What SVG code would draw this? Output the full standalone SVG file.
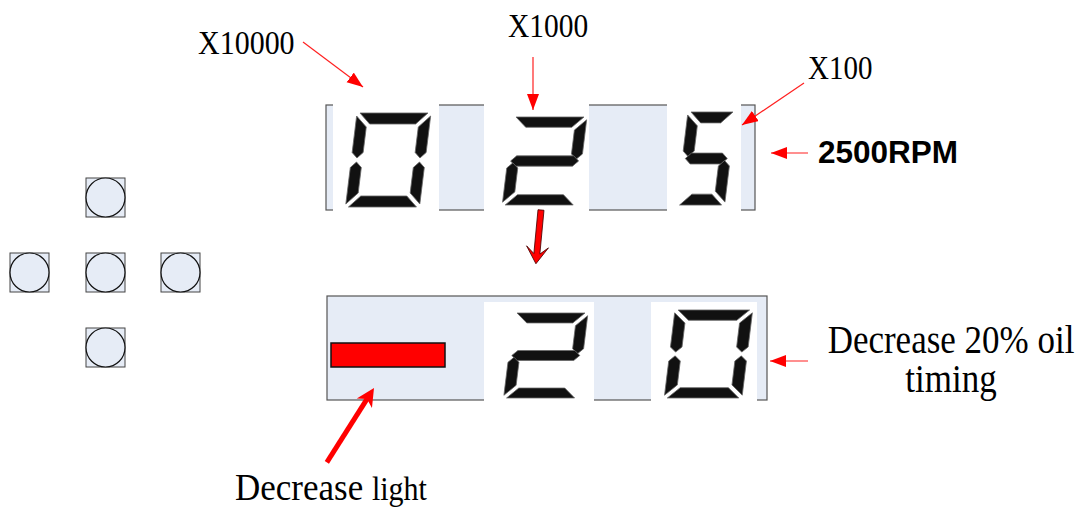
<svg xmlns="http://www.w3.org/2000/svg" xmlns:xlink="http://www.w3.org/1999/xlink" width="1082" height="508" viewBox="0 0 1082 508">
<style>
.panel{fill:#E6ECF6;stroke:#555;stroke-width:1.2}
.white{fill:#fff}
.seg{fill:#111;stroke:#666;stroke-width:0.8}
.btnsq{fill:#E6ECF6;stroke:#444;stroke-width:1}
.btnc{fill:#E6ECF6;stroke:#111;stroke-width:1.2}
.lbl{font-family:"Liberation Serif","Times New Roman",serif;fill:#000}
.bold{font-family:"Liberation Sans",Arial,sans-serif;font-weight:bold;fill:#000}
.thin{stroke:#ff2020;stroke-width:1.2;fill:none}
</style>
<defs>
<marker id="ah" markerUnits="userSpaceOnUse" markerWidth="18" markerHeight="14" refX="16" refY="6" orient="auto">
<path d="M0,0 L16,6 L0,12 z" fill="#ff0000"/>
</marker>
<polygon id="sa" class="seg" points="3,0 71,0 60,11 14,11"/>
<polygon id="sd" class="seg" points="3,94 14,83 60,83 71,94"/>
<polygon id="sg" class="seg" points="3,47 8.5,41.5 65.5,41.5 71,47 65.5,52.5 8.5,52.5"/>
<polygon id="sf" class="seg" points="0,3 11,14 11,39.5 5.5,45 0,39.5"/>
<polygon id="se" class="seg" points="0,54.5 5.5,49 11,54.5 11,80 0,91"/>
<polygon id="sb" class="seg" points="74,3 74,39.5 68.5,45 63,39.5 63,14"/>
<polygon id="sc" class="seg" points="74,54.5 74,91 63,80 63,54.5 68.5,49"/>
<polygon id="na" class="seg" points="3,0 45,0 34,11 14,11"/>
<polygon id="nd" class="seg" points="3,94 14,83 34,83 45,94"/>
<polygon id="ng" class="seg" points="3,47 8.5,41.5 39.5,41.5 45,47 39.5,52.5 8.5,52.5"/>
<g id="d0"><use xlink:href="#sa"/><use xlink:href="#sb"/><use xlink:href="#sc"/><use xlink:href="#sd"/><use xlink:href="#se"/><use xlink:href="#sf"/></g>
<g id="d2"><use xlink:href="#sa"/><use xlink:href="#sb"/><use xlink:href="#sg"/><use xlink:href="#se"/><use xlink:href="#sd"/></g>
<g id="d5"><use xlink:href="#na"/><use xlink:href="#sf"/><use xlink:href="#ng"/><use xlink:href="#sc" x="-26"/><use xlink:href="#nd"/></g>
</defs>

<g id="top-display">
<rect class="panel" x="326" y="105" width="429" height="105"/>
<rect class="white" x="333" y="103" width="106" height="109"/>
<rect class="white" x="484" y="103" width="105" height="109"/>
<rect class="white" x="667" y="103" width="74" height="109"/>
<use xlink:href="#d0" transform="translate(357,113) skewX(-7)"/>
<use xlink:href="#d2" transform="translate(513,117) skewX(-7) scale(1,0.936)"/>
<use xlink:href="#d5" transform="translate(688,112) skewX(-7) scale(1,0.99)"/>
</g>

<g id="bottom-display">
<rect class="panel" x="327" y="296" width="440" height="104"/>
<rect class="white" x="484" y="302" width="110" height="100"/>
<rect class="white" x="651" y="302" width="106" height="100"/>
<rect x="331" y="343" width="114" height="24" fill="#ff0000" stroke="#111" stroke-width="1.5"/>
<use xlink:href="#d2" transform="translate(514,313) skewX(-7) scale(1,0.904)"/>
<use xlink:href="#d0" transform="translate(675,310) skewX(-7) scale(1.05,0.936)"/>
</g>

<g id="btn-up"><rect class="btnsq" x="86" y="178" width="39" height="39"/><circle class="btnc" cx="105.5" cy="197.5" r="19.5"/></g>
<g id="btn-left"><rect class="btnsq" x="10" y="253" width="39" height="39"/><circle class="btnc" cx="29.5" cy="272.5" r="19.5"/></g>
<g id="btn-center"><rect class="btnsq" x="86" y="253" width="39" height="39"/><circle class="btnc" cx="105.5" cy="272.5" r="19.5"/></g>
<g id="btn-right"><rect class="btnsq" x="161" y="253" width="39" height="39"/><circle class="btnc" cx="180.5" cy="272.5" r="19.5"/></g>
<g id="btn-down"><rect class="btnsq" x="86" y="328" width="39" height="39"/><circle class="btnc" cx="105.5" cy="347.5" r="19.5"/></g>

<g id="labels">
<text class="lbl" font-size="30" transform="translate(198,54) scale(1,1.15)">X10000</text>
<text class="lbl" font-size="29.5" transform="translate(508,37) scale(1,1.15)">X1000</text>
<text class="lbl" font-size="29" transform="translate(808,79) scale(1,1.15)">X100</text>
<text class="bold" font-size="31.5" x="818" y="163">2500RPM</text>
<text class="lbl" font-size="35" text-anchor="middle" transform="translate(951,353) scale(1,1.12)">Decrease 20% oil</text>
<text class="lbl" font-size="35" text-anchor="middle" transform="translate(951,392) scale(1,1.12)">timing</text>
<text class="lbl" font-size="35" transform="translate(235,500) scale(1,1.1)">Decrease <tspan font-size="30">light</tspan></text>
</g>

<g id="connectors">
<line class="thin" x1="303" y1="42" x2="363" y2="87" marker-end="url(#ah)"/>
<line class="thin" x1="533" y1="57" x2="533" y2="110" marker-end="url(#ah)"/>
<line class="thin" x1="804" y1="83" x2="742" y2="125" marker-end="url(#ah)"/>
<line class="thin" x1="808" y1="153" x2="771" y2="153" marker-end="url(#ah)"/>
<line class="thin" x1="808" y1="361" x2="770" y2="361" marker-end="url(#ah)"/>
<g transform="translate(374,388) rotate(-57.6)">
<line x1="-88" y1="0" x2="-12" y2="0" stroke="#ff0000" stroke-width="5"/>
<polygon points="0,0 -18,-9 -13,0 -18,9" fill="#ff0000"/>
</g>
<polygon transform="translate(541,210) rotate(5.4)" points="-3,0 3,0 3,44 11,37 0,54 -11,37 -3,44" fill="#ff0000" stroke="#400" stroke-width="0.8"/>
</g>
</svg>
